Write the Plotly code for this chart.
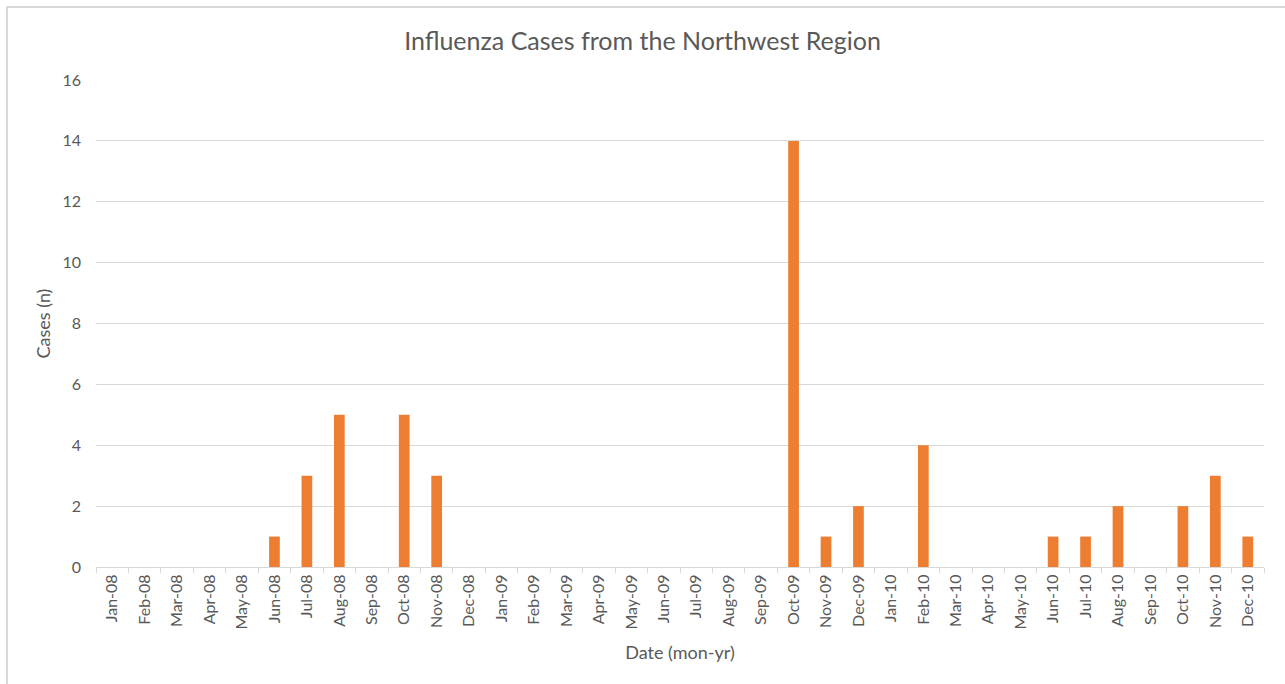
import plotly.graph_objects as go

months = ["Jan", "Feb", "Mar", "Apr", "May", "Jun", "Jul", "Aug", "Sep", "Oct", "Nov", "Dec"]
years = ["08", "09", "10"]
categories = [f"{m}-{y}" for y in years for m in months]
cases = [0, 0, 0, 0, 0, 1, 3, 5, 0, 5, 3, 0,
         0, 0, 0, 0, 0, 0, 0, 0, 0, 14, 1, 2,
         0, 4, 0, 0, 0, 1, 1, 2, 0, 2, 3, 1]
y_ticks = [0, 2, 4, 6, 8, 10, 12, 14, 16]

FONT = "Lato"
GRAY = "#595959"

fig = go.Figure(go.Bar(x=categories, y=cases, marker_color="#ED7D31",
                       marker_line_width=0, width=0.33))

L, R, T, B = 96, 21, 80, 117
W, H = 1285, 684
pw, ph = W - L - R, H - T - B


def px_x(p):
    return (p - L) / pw


def px_y(p):
    return (H - B - p) / ph


fig.update_layout(
    width=W, height=H,
    margin=dict(l=L, r=R, t=T, b=B),
    paper_bgcolor="white", plot_bgcolor="white",
    showlegend=False,
    title=dict(text="Influenza Cases from the Northwest Region", x=0.5, xanchor="center",
               y=1 - 41 / H, yanchor="middle",
               font=dict(family=FONT, size=25, color=GRAY)),
    font=dict(family=FONT, color=GRAY, size=16),
    xaxis=dict(type="category", tickangle=-90, tickson="boundaries", ticks="outside",
               ticklen=5, tickcolor="#d9d9d9", showline=True, linecolor="#d9d9d9",
               linewidth=1, showgrid=False,
               tickfont=dict(family=FONT, size=16, color=GRAY),
               title=dict(text="Date (mon-yr)", font=dict(family=FONT, size=18, color=GRAY),
                          standoff=17)),
    yaxis=dict(range=[0, 16], tickvals=y_ticks, showgrid=True, gridcolor="#d9d9d9",
               gridwidth=1, zeroline=False, showline=False, ticks="",
               ticklabelstandoff=14,
               tickfont=dict(family=FONT, size=16, color=GRAY),
               title=dict(text="Cases (n)", font=dict(family=FONT, size=18, color=GRAY),
                          standoff=7)),
    shapes=[dict(type="rect", xref="paper", yref="paper",
                 x0=px_x(7), x1=px_x(1300),
                 y0=px_y(700), y1=px_y(7),
                 line=dict(color="#d9d9d9", width=2), layer="below")],
)

fig.write_html("out.html", config={"displayModeBar": False},
               post_script="document.body.style.margin='0';document.body.style.padding='0';")
